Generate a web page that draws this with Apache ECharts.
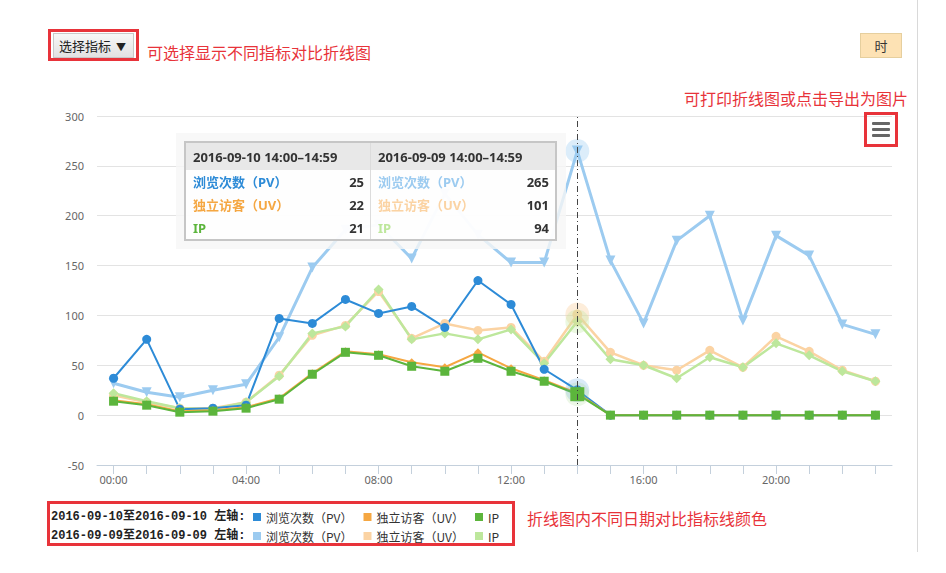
<!DOCTYPE html>
<html>
<head>
<meta charset="utf-8">
<script src="https://cdn.jsdelivr.net/npm/echarts@6/dist/echarts.min.js"></script>
<style>
html,body{margin:0;padding:0;background:#fff;width:946px;height:573px;overflow:hidden;}
#chart{position:absolute;left:0;top:0;width:946px;height:573px;}
.ov{position:absolute;box-sizing:border-box;font-family:"Noto Sans CJK SC","Noto Sans",sans-serif;pointer-events:none;}
.red{border:3px solid #e8333a;}
.note{color:#e8333a;font-size:16px;line-height:20px;white-space:nowrap;}
</style>
</head>
<body>
<div id="chart"></div>
<div class="ov" style="left:917px;top:0;width:1px;height:552px;background:#d9d9d9"></div>
<!-- select button -->
<div class="ov red" style="left:48px;top:29px;width:91px;height:32px;"></div>
<div class="ov" style="left:53px;top:33px;width:81px;height:25px;border:1px solid #c8c8c8;background:linear-gradient(#f7f7f7,#e2e2e2);font-size:13px;line-height:23px;color:#222;padding-left:5px;white-space:nowrap">选择指标<span style="font-size:10px;margin-left:5px;display:inline-block">▼</span></div>
<div class="ov note" style="left:147px;top:42px;">可选择显示不同指标对比折线图</div>
<!-- hour button -->
<div class="ov" style="left:860px;top:33px;width:42px;height:25px;border:1px solid #e6cf9e;background:#fde2b4;font-size:13px;line-height:23px;color:#333;text-align:center">时</div>
<div class="ov note" style="left:684px;top:88px;">可打印折线图或点击导出为图片</div>
<!-- menu icon -->
<div class="ov red" style="left:864px;top:112px;width:34px;height:35px;"></div>
<div class="ov" style="left:872px;top:122px;width:18px;height:3px;background:#666;border-radius:1px"></div>
<div class="ov" style="left:872px;top:128px;width:18px;height:3px;background:#666;border-radius:1px"></div>
<div class="ov" style="left:872px;top:134px;width:18px;height:3px;background:#666;border-radius:1px"></div>
<!-- legend box -->
<div class="ov red" style="left:47px;top:501px;width:468px;height:45px;"></div>
<div class="ov note" style="left:527px;top:508px;">折线图内不同日期对比指标线颜色</div>

<script>
// ---- data ----
const hours = ['00:00','01:00','02:00','03:00','04:00','05:00','06:00','07:00','08:00','09:00','10:00','11:00',
               '12:00','13:00','14:00','15:00','16:00','17:00','18:00','19:00','20:00','21:00','22:00','23:00'];
const dates = ['2016-09-10','2016-09-09'];
const metrics = ['浏览次数（PV）','独立访客（UV）','IP'];
const yTicks = [-50, 0, 50, 100, 150, 200, 250, 300];

const pv10 = [37,76,6,7,10,97,92,116,102,109,88,135,111,46,25,0,0,0,0,0,0,0,0,0];
const uv10 = [15,11,4,5,8,17,42,64,61,53,48,63,47,35,22,0,0,0,0,0,0,0,0,0];
const ip10 = [14,10,3,4,7,16,41,63,60,49,44,57,44,34,21,0,0,0,0,0,0,0,0,0];
const pv09 = [32,23,18,25,31,78,148,186,191,157,222,181,153,153,265,155,92,175,200,95,180,160,91,81];
const uv09 = [20,13,7,7,13,40,80,90,124,77,92,85,88,54,101,63,50,45,65,48,79,64,45,34];
const ip09 = [22,14,7,6,13,39,82,89,126,76,82,76,86,52,94,56,50,37,58,48,72,60,44,34];

const hoverIndex = 14;

// ---- styles ----
const colors10 = ['#2d8bd7','#f5a742','#5cb53c'];
const colors09 = ['#9ccbf0','#fbd3a3','#bde79c'];
const halo = ['rgba(45,139,215,0.18)','rgba(245,167,66,0)','rgba(150,210,120,0.18)'];
const halo09 = ['rgba(156,203,240,0.35)','rgba(251,211,163,0.4)','rgba(189,231,156,0.3)'];

const chart = echarts.init(document.getElementById('chart'), null, {renderer:'svg'});

function mkSeries(date, mi, data, color, symbol, size, width, haloColor, extraMp){
  const mpData = [{coord:[hours[hoverIndex], data[hoverIndex]], symbol:'circle', symbolSize:24, itemStyle:{color:haloColor}}];
  if (extraMp) mpData.push(Object.assign({coord:[hours[hoverIndex], data[hoverIndex]]}, extraMp));
  return {
    name: date + ' ' + metrics[mi],
    type: 'line',
    data: data,
    symbol: symbol,
    symbolSize: size,
    symbolRotate: symbol === 'triangle' ? 180 : 0,
    showAllSymbol: true,
    lineStyle: {color: color, width: width},
    itemStyle: {color: color, borderWidth: 0},
    emphasis: {disabled: true},
    animation: false,
    markPoint: {silent:true, animation:false, label:{show:false}, data: mpData}
  };
}

const series = [
  mkSeries(dates[1], 0, pv09, colors09[0], 'triangle', 10, 3, halo09[0]),
  mkSeries(dates[1], 1, uv09, colors09[1], 'circle', 9, 2.5, halo09[1]),
  mkSeries(dates[1], 2, ip09, colors09[2], 'diamond', 10, 2.5, halo09[2]),
  mkSeries(dates[0], 0, pv10, colors10[0], 'circle', 9, 2, halo[0]),
  mkSeries(dates[0], 1, uv10, colors10[1], 'diamond', 8, 2, halo[1]),
  mkSeries(dates[0], 2, ip10, colors10[2], 'rect', 9, 2, halo[2], {symbol:'rect', symbolSize:14, itemStyle:{color:colors10[2]}})
];

function legendRow(date, top, cols){
  return {
    top: top, left: 253, orient: 'horizontal', padding: 0, itemGap: 11,
    itemWidth: 8, itemHeight: 8, icon: 'rect', selectedMode: false,
    data: metrics.map((m, i) => ({name: date + ' ' + m, itemStyle:{color: cols[i]}})),
    formatter: n => n.split(' ')[1],
    textStyle: {fontSize: 12, color: '#333', fontFamily: '"Noto Sans CJK SC", sans-serif'}
  };
}

function tipHtml(){
  const h = hours[hoverIndex];
  const range = h + '–' + h.slice(0,2) + ':59';
  const sets = [[pv10,uv10,ip10],[pv09,uv09,ip09]];
  const cols = [colors10, colors09];
  const td = 'padding:0 6px 0 7px;height:23px;';
  let s = '<table style="border-collapse:collapse;border:2px solid #c6c6c6;background:rgba(255,255,255,0.82);font:bold 13px \'Noto Sans\',\'Noto Sans CJK SC\',sans-serif;color:#333;">';
  s += '<tr style="background:#e8e8e8;">';
  for (let k = 0; k < 2; k++) {
    s += '<td colspan="2" style="padding:0 7px;height:27px;width:170px;' + (k===0?'border-right:1px solid #dcdcdc;':'') + '">' + dates[k] + ' ' + range + '</td>';
  }
  s += '</tr>';
  for (let r = 0; r < 3; r++) {
    s += '<tr>';
    for (let k = 0; k < 2; k++) {
      s += '<td style="' + td + 'color:' + cols[k][r] + ';">' + metrics[r] + '</td>';
      s += '<td style="' + td + 'text-align:right;' + (k===0?'border-right:1px solid #dcdcdc;':'') + '">' + sets[k][r][hoverIndex] + '</td>';
    }
    s += '</tr>';
  }
  s += '</table>';
  return s;
}

chart.setOption({
  animation: false,
  grid: {left: 97, right: 54, top: 116, bottom: 108, containLabel: false},
  xAxis: {
    type: 'category', data: hours, boundaryGap: true,
    axisLine: {onZero: false, lineStyle: {color: '#c4d0dc', width: 1}},
    axisTick: {show: true, alignWithLabel: true, interval: 0, length: 9, lineStyle: {color: '#c4d0dc'}},
    axisLabel: {interval: 3, color: '#666', fontSize: 11, margin: 9, fontFamily: '"Noto Sans", sans-serif'},
    splitLine: {show: false}
  },
  yAxis: {
    type: 'value', min: yTicks[0], max: yTicks[yTicks.length-1], interval: 50,
    axisLine: {show: false}, axisTick: {show: false},
    axisLabel: {color: '#666', fontSize: 11, margin: 13, fontFamily: '"Noto Sans", sans-serif'},
    splitLine: {lineStyle: {color: '#e3e3e3', width: 1}}
  },
  legend: [legendRow(dates[0], 511, colors10), legendRow(dates[1], 530, colors09)],
  graphic: [
    {type:'text', left: 51, top: 511, style:{text: dates[0] + '至' + dates[0] + ' 左轴:', font: 'bold 12px "Liberation Mono","Noto Sans CJK SC",monospace', fill: '#222'}},
    {type:'text', left: 51, top: 530, style:{text: dates[1] + '至' + dates[1] + ' 左轴:', font: 'bold 12px "Liberation Mono","Noto Sans CJK SC",monospace', fill: '#222'}}
  ],
  tooltip: {
    show: true, trigger: 'axis', triggerOn: 'none', alwaysShowContent: true,
    position: [176, 133], transitionDuration: 0, showDelay: 0, hideDelay: 0,
    backgroundColor: 'rgba(246,246,246,0.8)', borderWidth: 0, padding: [8, 9, 8, 8],
    extraCssText: 'box-shadow:none;border-radius:0;',
    axisPointer: {type: 'line', triggerEmphasis: false, lineStyle: {color: '#444', width: 1, type: [6, 3, 1, 3]}},
    formatter: tipHtml
  },
  series: series
});

chart.dispatchAction({type: 'showTip', seriesIndex: 3, dataIndex: hoverIndex});
</script>
</body>
</html>
